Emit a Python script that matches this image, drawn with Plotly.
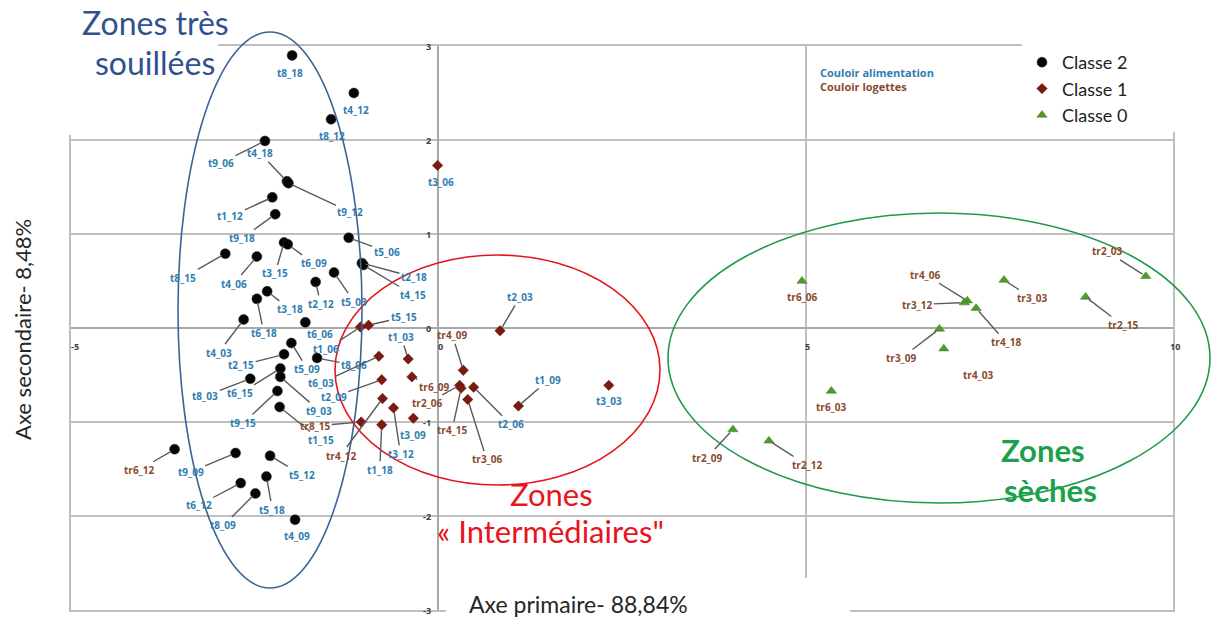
import plotly.graph_objects as go

# ---------------- scores on the first two factorial axes ----------------
# Classe 2
names_c2 = ["t8_18", "t4_12", "t8_12", "t9_06", "t4_18", "t9_12", "t1_12", "t9_18",
            "t3_15", "t6_09", "t5_06", "t8_15", "t4_06", "t2_18", "t4_15", "t5_03",
            "t2_12", "t3_18", "t6_18", "t6_06", "t4_03", "t5_09", "t2_15", "t8_06",
            "t6_15", "t9_03", "t8_03", "t9_15", "t1_15", "tr6_12", "t9_09", "t5_12",
            "t5_18", "t6_12", "t8_09", "t4_09"]
x_c2 = [-1.99, -1.15, -1.46, -2.36, -2.06, -2.04, -2.26, -2.22,
        -2.10, -2.05, -1.22, -2.90, -2.47, -1.04, -1.02, -1.42,
        -1.67, -2.33, -2.47, -1.81, -2.65, -2.00, -2.10, -1.65,
        -2.15, -2.15, -2.56, -2.19, -2.16, -3.59, -2.76, -2.29,
        -2.34, -2.69, -2.49, -1.95]
y_c2 = [2.90, 2.50, 2.22, 1.99, 1.56, 1.54, 1.39, 1.21,
        0.91, 0.89, 0.96, 0.79, 0.76, 0.69, 0.67, 0.59,
        0.49, 0.39, 0.31, 0.06, 0.09, -0.16, -0.28, -0.32,
        -0.43, -0.52, -0.54, -0.67, -0.84, -1.29, -1.33, -1.36,
        -1.58, -1.65, -1.76, -2.04]

# Classe 1
names_c1 = ["t3_06", "t1_06", "t5_15", "t6_03", "t1_03", "t2_09", "tr6_09", "tr4_12",
            "t3_12", "t3_09", "t1_18", "tr8_15", "tr4_09", "tr2_06", "tr4_15", "t2_06",
            "tr3_06", "t2_03", "t1_09", "t3_03"]
x_c1 = [-0.01, -1.06, -0.95, -0.81, -0.41, -0.77, -0.36, -0.76,
        -0.61, -0.34, -0.77, -1.05, 0.34, 0.29, 0.31, 0.48,
        0.40, 0.84, 1.09, 2.32]
y_c1 = [1.73, 0.01, 0.03, -0.30, -0.33, -0.55, -0.52, -0.75,
        -0.85, -0.96, -1.03, -1.00, -0.45, -0.61, -0.64, -0.63,
        -0.76, -0.03, -0.83, -0.61]

# Classe 0
names_c0 = ["tr6_06", "tr4_06", "tr3_12", "tr4_18", "tr3_03", "tr2_03", "tr2_15",
            "tr3_09", "tr4_03", "tr6_03", "tr2_09", "tr2_12"]
x_c0 = [4.95, 7.20, 7.16, 7.32, 7.70, 9.63, 8.81, 6.82, 6.88, 5.35, 4.01, 4.50]
y_c0 = [0.50, 0.29, 0.27, 0.21, 0.51, 0.55, 0.33, -0.01, -0.22, -0.67, -1.08, -1.20]

x_ticks = [-5, 0, 5, 10]
y_ticks = [3, 2, 1, 0, -1, -2, -3]

# ---------------- label placement (pixel offsets from the marker) ----------------
# (dx, dy, leader line)
LABEL_POS = {
    "t8_18": (-2, 18, False), "t4_12": (2, 17, False), "t8_12": (1, 17, False),
    "t9_06": (-44, 22, True), "t4_18": (-27, -28, True), "t9_12": (62, 29, True),
    "t1_12": (-42, 19, True), "t9_18": (-33, 24, True), "t3_15": (-9, 31, True),
    "t6_09": (26, 19, True), "t5_06": (38, 14, True), "t8_15": (-42, 24, True),
    "t4_06": (-23, 27, True), "t2_18": (52, 14, True), "t4_15": (50, 30, True),
    "t5_03": (20, 29, True), "t2_12": (5, 22, True), "t3_18": (23, 18, True),
    "t6_18": (7, 34, True), "t6_06": (15, 12, False), "t4_03": (-25, 33, True),
    "t5_09": (16, 26, True), "t2_15": (-43, 11, True), "t8_06": (37, 7, True),
    "t6_15": (-40, 25, True), "t9_03": (39, 34, True), "t8_03": (-45, 17, True),
    "t9_15": (-34, 32, True), "t1_15": (41, 33, True), "tr6_12": (-36, 21, True),
    "t9_09": (-45, 19, True), "t5_12": (32, 19, True), "t5_18": (6, 33, True),
    "t6_12": (-42, 22, True), "t8_09": (-32, 32, True), "t4_09": (2, 16, False),
    "t3_06": (3, 17, False), "t1_06": (-34, 22, True), "t5_15": (35, -8, True),
    "t6_03": (-58, 27, True), "t1_03": (-7, -22, True), "t2_09": (-48, 17, True),
    "tr6_09": (22, 10, True), "tr4_12": (-42, 57, True), "t3_12": (7, 46, True),
    "t3_09": (0, 17, False), "t1_18": (-2, 45, True), "tr8_15": (-46, 4, True),
    "tr4_09": (-11, -35, True), "tr2_06": (-33, 18, True), "tr4_15": (-9, 42, True),
    "t2_06": (37, 37, True), "tr3_06": (19, 60, True), "t2_03": (20, -34, True),
    "t1_09": (30, -26, True), "t3_03": (0, 16, False),
    "tr6_06": (0, 16, False), "tr4_06": (-42, -26, True), "tr3_12": (-47, 2, True),
    "tr4_18": (30, 34, True), "tr3_03": (28, 18, True), "tr2_03": (-39, -25, True),
    "tr2_15": (37, 28, True), "tr3_09": (-38, 29, True), "tr4_03": (34, 26, True),
    "tr6_03": (0, 16, False), "tr2_09": (-26, 28, True), "tr2_12": (38, 24, True),
}

BLUE = "#2F7DB0"     # couloir alimentation
BROWN = "#8A4A2C"    # couloir logettes
LEADER = "#5A5A5A"
GRID = "#BFBFBF"

W, H = 1212, 617
ML, MR, MT, MB = 71, 39, 46, 7


def px(x):
    return (x - ML) / (W - ML - MR)


def py(y):
    return (H - MB - y) / (H - MT - MB)


fig = go.Figure()

fig.add_trace(go.Scatter(
    x=x_c2, y=y_c2, mode="markers", name="Classe 2",
    marker=dict(symbol="circle", size=10, color="#050505", line=dict(color="#333", width=0.5)),
))
fig.add_trace(go.Scatter(
    x=x_c1, y=y_c1, mode="markers", name="Classe 1",
    marker=dict(symbol="diamond", size=8, color="#7A1A10", line=dict(color="#5A0E08", width=0.5)),
))
fig.add_trace(go.Scatter(
    x=x_c0, y=y_c0, mode="markers", name="Classe 0",
    marker=dict(symbol="triangle-up", size=9, color="#4E9A2A", line=dict(color="#3C7E1E", width=0.5)),
))

annotations = []
for names, xs, ys in ((names_c2, x_c2, y_c2), (names_c1, x_c1, y_c1), (names_c0, x_c0, y_c0)):
    for n, xv, yv in zip(names, xs, ys):
        dx, dy, lead = LABEL_POS[n]
        col = BROWN if n.startswith("tr") else BLUE
        font = dict(family="Open Sans", size=10, color=col, weight="bold")
        if lead:
            annotations.append(dict(
                x=xv, y=yv, xref="x", yref="y", text=n, showarrow=True,
                ax=dx, ay=dy, axref="pixel", ayref="pixel", arrowhead=0,
                arrowwidth=1.4, arrowcolor=LEADER, standoff=4, font=font,
            ))
        else:
            annotations.append(dict(
                x=xv, y=yv, xref="x", yref="y", text=n, showarrow=False,
                xanchor="center", yanchor="middle",
                xshift=dx, yshift=-dy, font=font,
            ))

tick_font = dict(family="Open Sans", size=9, color="#404040", weight="bold")
for t in y_ticks:
    annotations.append(dict(x=0, y=t, xref="x", yref="y", text=str(t), showarrow=False,
                            xanchor="right", yanchor="middle", xshift=-5, font=tick_font))
for t in x_ticks:
    annotations.append(dict(x=t, y=0, xref="x", yref="y", text=str(t), showarrow=False,
                            xanchor="center", yanchor="top", yshift=-10,
                            xshift=4 if t == -5 else 2, font=tick_font))

# legend side notes
annotations += [
    dict(x=px(818), y=py(72), xref="paper", yref="paper", text="Couloir alimentation",
         showarrow=False, xanchor="left", yanchor="middle",
         font=dict(family="Open Sans", size=11, color=BLUE, weight="bold")),
    dict(x=px(818), y=py(87), xref="paper", yref="paper", text="Couloir logettes",
         showarrow=False, xanchor="left", yanchor="middle",
         font=dict(family="Open Sans", size=11, color=BROWN, weight="bold")),
]


def caption(text, cx, cy, size, color):
    return dict(x=px(cx), y=py(cy), xref="paper", yref="paper", text=text, showarrow=False,
                xanchor="center", yanchor="middle",
                font=dict(family="Lato", size=size, color=color))


annotations += [
    caption("Zones très", 155, 23, 32, "#2F528F"),
    caption("souillées", 155, 62, 32, "#2F528F"),
    caption("Zones", 551, 494, 31, "#E8141C"),
    caption("« Intermédiaires\"", 550, 531, 31, "#E8141C"),
    caption("<b>Zones</b>", 1043, 450, 31, "#1BA14A"),
    caption("<b>sèches</b>", 1050, 490, 31, "#1BA14A"),
    dict(x=px(467), y=py(604), xref="paper", yref="paper", text="Axe primaire- 88,84%",
         showarrow=False, xanchor="left", yanchor="middle",
         font=dict(family="Lato", size=23, color="#262626")),
    dict(x=px(22), y=py(330), xref="paper", yref="paper", text="Axe secondaire- 8,48%",
         showarrow=False, textangle=-90, xanchor="center", yanchor="middle",
         font=dict(family="Lato", size=22, color="#262626")),
]

shapes = [
    # white panels behind the captions and the class legend
    dict(type="rect", xref="paper", yref="paper", x0=px(55), x1=px(218), y0=py(135), y1=py(0),
         fillcolor="white", line=dict(width=0), layer="above"),
    dict(type="rect", xref="paper", yref="paper", x0=px(1057), x1=px(1212), y0=py(132), y1=py(30),
         fillcolor="white", line=dict(width=0), layer="above"),
    dict(type="rect", xref="paper", yref="paper", x0=px(446), x1=px(850), y0=py(617), y1=py(578),
         fillcolor="white", line=dict(width=0), layer="above"),
    # zone ellipses
    dict(type="circle", xref="paper", yref="paper", x0=px(178), x1=px(362), y0=py(588), y1=py(32),
         line=dict(color="#3A6496", width=1.6), layer="above"),
    dict(type="circle", xref="paper", yref="paper", x0=px(335), x1=px(660), y0=py(485), y1=py(255),
         line=dict(color="#E3161B", width=1.6), layer="above"),
    dict(type="circle", xref="paper", yref="paper", x0=px(668), x1=px(1210), y0=py(503), y1=py(213),
         line=dict(color="#1E9A4A", width=1.6), layer="above"),
]

fig.update_layout(
    width=W, height=H,
    margin=dict(l=ML, r=MR, t=MT, b=MB, autoexpand=False),
    paper_bgcolor="white", plot_bgcolor="white",
    showlegend=True,
    legend=dict(x=px(1022), y=py(44), xanchor="left", yanchor="top",
                bgcolor="white", font=dict(family="Lato", size=18, color="#222222"),
                traceorder="normal", itemclick=False),
    annotations=annotations,
    shapes=shapes,
    xaxis=dict(range=[-5, 10], dtick=5, tick0=0, showgrid=True, gridcolor=GRID, gridwidth=2,
               zeroline=True, zerolinecolor="#A8A8A8", zerolinewidth=2,
               showline=True, mirror=True, linecolor=GRID, linewidth=2,
               showticklabels=False, ticks=""),
    yaxis=dict(range=[-3, 3], dtick=1, tick0=0, showgrid=True, gridcolor=GRID, gridwidth=2,
               zeroline=True, zerolinecolor="#A8A8A8", zerolinewidth=2,
               showline=True, mirror=True, linecolor=GRID, linewidth=2,
               showticklabels=False, ticks=""),
)

fig.write_html("out.html")
